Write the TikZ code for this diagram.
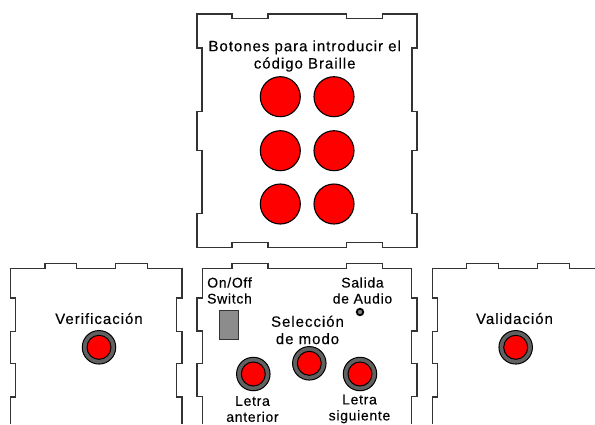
\documentclass[tikz,border=0pt]{standalone}
\usepackage{fontspec}
\setmainfont{Liberation Sans}
\newfontfamily\lblfont[LetterSpace=6.5,FakeBold=0.2]{Liberation Sans}
\newfontfamily\lblsmfont[LetterSpace=5,FakeBold=0.2]{Liberation Sans}
\tikzset{
  panel/.style={draw=black!80,line width=1.1pt,line join=miter},
  bigbtn/.style={circle,draw=black,line width=1.1pt,fill=red,minimum size=40pt,inner sep=0pt},
  smallbtn/.style={circle,draw=black,line width=1pt,fill=black!62,minimum size=33.5pt,inner sep=0pt},
  smallcap/.style={circle,draw=black,line width=1pt,fill=red,minimum size=24pt,inner sep=0pt},
  lbl/.style={align=center,font=\lblfont\fontsize{15}{17.3}\selectfont,text=black,inner sep=0pt},
  lblsm/.style={align=center,font=\lblsmfont\fontsize{14}{16}\selectfont,text=black,inner sep=0pt},
}
\begin{document}
\begin{tikzpicture}[x=1pt,y=-1pt]
\useasboundingbox (0,0) rectangle (595,424);
% top panel
\draw[panel] (197,14) -- (232,14) -- (232,18.3) -- (268,18.3) -- (268,14) -- (346.5,14) -- (346.5,18.3) -- (382.7,18.3) -- (382.7,14) -- (417,14)
 -- (417,48) -- (412,48) -- (412,111.7) -- (417,111.7) -- (417,150.7) -- (412,150.7) -- (412,213.5) -- (417,213.5) -- (417,247.7)
 -- (382.7,247.7) -- (382.7,242.7) -- (346.5,242.7) -- (346.5,247.7) -- (268,247.7) -- (268,242.7) -- (232,242.7) -- (232,247.7) -- (197,247.7)
 -- (197,213.5) -- (202,213.5) -- (202,150.7) -- (197,150.7) -- (197,111.7) -- (202,111.7) -- (202,48) -- (197,48) -- cycle;
% middle panel
\draw[panel] (202.3,424) -- (202.3,396.7) -- (197,396.7) -- (197,363.3) -- (202.3,363.3) -- (202.3,331) -- (197,331) -- (197,298) -- (202.3,298) -- (202.3,268.7)
 -- (232,268.7) -- (232,263.7) -- (268,263.7) -- (268,268.7) -- (346.5,268.7) -- (346.5,263.7) -- (382.7,263.7) -- (382.7,268.7) -- (411.7,268.7)
 -- (411.7,298) -- (417,298) -- (417,331) -- (411.7,331) -- (411.7,363.3) -- (417,363.3) -- (417,396.7) -- (411.7,396.7) -- (411.7,424);
% left panel
\draw[panel] (10.7,424) -- (10.7,397) -- (15.7,397) -- (15.7,363.3) -- (10.7,363.3) -- (10.7,331.5) -- (15.7,331.5) -- (15.7,298) -- (10.7,298) -- (10.7,268.7)
 -- (45,268.7) -- (45,263.7) -- (76.3,263.7) -- (76.3,268.7) -- (115.7,268.7) -- (115.7,263.7) -- (147.7,263.7) -- (147.7,268.7) -- (182,268.7)
 -- (182,298) -- (176.7,298) -- (176.7,331.5) -- (182,331.5) -- (182,363.3) -- (176.7,363.3) -- (176.7,397) -- (182,397) -- (182,424);
% right panel
\draw[panel] (432.7,424) -- (432.7,397) -- (437.7,397) -- (437.7,363.3) -- (432.7,363.3) -- (432.7,331.5) -- (437.7,331.5) -- (437.7,298) -- (432.7,298) -- (432.7,268.7)
 -- (466.7,268.7) -- (466.7,263.7) -- (498.3,263.7) -- (498.3,268.7) -- (537.7,268.7) -- (537.7,263.7) -- (569.3,263.7) -- (569.3,268.7) -- (596,268.7);
% big buttons
\node[bigbtn] (b1) at (280.3,96.7) {};
\node[bigbtn] (b2) at (334,96.7) {};
\node[bigbtn] (b3) at (280.3,150.7) {};
\node[bigbtn] (b4) at (334,150.7) {};
\node[bigbtn] (b5) at (280.3,204) {};
\node[bigbtn] (b6) at (334,204) {};
% small buttons
\node[smallbtn] (verO) at (99,347.3) {}; \node[smallcap] (verI) at (verO) {};
\node[smallbtn] (valO) at (515.7,347.3) {}; \node[smallcap] (valI) at (valO) {};
\node[smallbtn] (antO) at (253.3,374) {}; \node[smallcap] (antI) at (antO) {};
\node[smallbtn] (modO) at (309.3,363.3) {}; \node[smallcap] (modI) at (modO) {};
\node[smallbtn] (sigO) at (360,374) {}; \node[smallcap] (sigI) at (sigO) {};
% switch and audio
\node[draw=black!80,line width=1.1pt,fill=black!45,minimum width=19.5pt,minimum height=29pt,inner sep=0pt] (sw) at (229,324.7) {};
\node[circle,draw=black,line width=1.8pt,fill=black!50,minimum size=6.5pt,inner sep=0pt] (aud) at (360,312) {};
% labels
\node[lbl] (t1) at (304.7,56) {Botones para introducir el\\código Braille};
\node[lbl] (t2) at (99,318.5) {Verificación};
\node[lbl] (t3) at (514.5,318.5) {Validación};
\node[lblsm] (t4) at (229.5,290.5) {On/Off\\Switch};
\node[lblsm] (t5) at (362.5,290.5) {Salida\\de Audio};
\node[lbl] (t6) at (307.5,330) {Selección\\de modo};
\node[lblsm] (t7) at (252.5,409) {Letra\\anterior};
\node[lblsm] (t8) at (359.5,409) {Letra\\siguiente};
\end{tikzpicture}
\end{document}
